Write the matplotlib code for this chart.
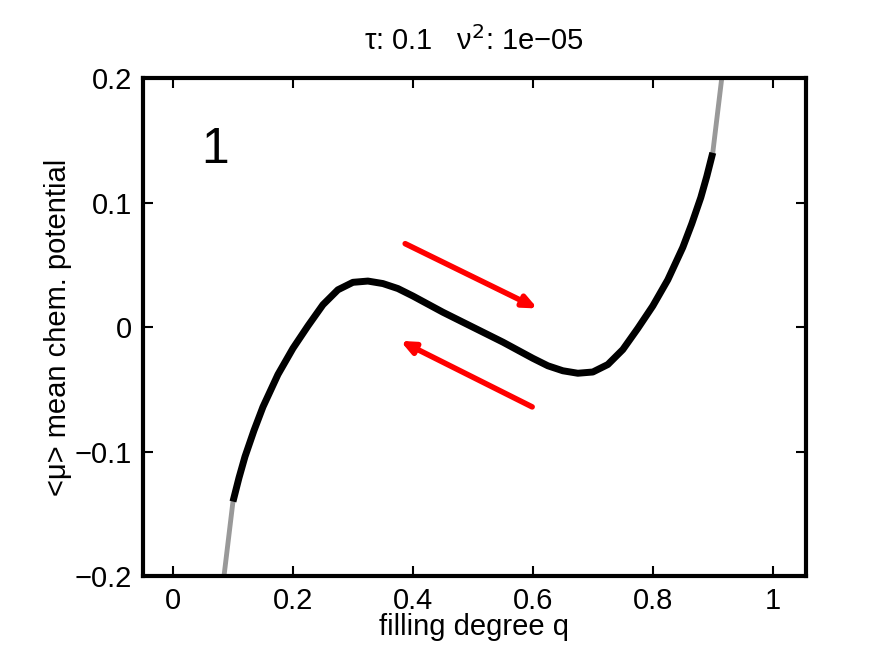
import matplotlib
matplotlib.use("Agg")
import matplotlib.pyplot as plt

q_black = [0.1, 0.11, 0.12, 0.135, 0.15, 0.175, 0.2, 0.225, 0.25, 0.275, 0.3, 0.325, 0.35, 0.375, 0.4, 0.45, 0.5,
           0.55, 0.6, 0.625, 0.65, 0.675, 0.7, 0.725, 0.75, 0.775, 0.8, 0.825, 0.85, 0.865, 0.88, 0.89, 0.9]
mu_black = [-0.14, -0.121, -0.104, -0.083, -0.064, -0.038, -0.017, 0.001, 0.018, 0.030, 0.036, 0.037, 0.035, 0.031, 0.025, 0.012, 0.0,
            -0.012, -0.025, -0.031, -0.035, -0.037, -0.036, -0.030, -0.018, -0.001, 0.017, 0.038, 0.064, 0.083, 0.104, 0.121, 0.14]
q_grey_lo = [0.085, 0.1]
mu_grey_lo = [-0.2, -0.14]
q_grey_hi = [0.9, 0.915]
mu_grey_hi = [0.14, 0.2]
xticks = [0, 0.2, 0.4, 0.6, 0.8, 1]
xticklabels = ["0", "0.2", "0.4", "0.6", "0.8", "1"]
yticks = [-0.2, -0.1, 0, 0.1, 0.2]
yticklabels = ["\u22120.2", "\u22120.1", "0", "0.1", "0.2"]

plt.rcParams["font.family"] = "Liberation Sans"
fig = plt.figure(figsize=(8.72, 6.67), dpi=100)
ax = fig.add_axes([0.164, 0.136, 0.76, 0.747])
ax.plot(q_grey_lo, mu_grey_lo, color="#999999", lw=3.5)
ax.plot(q_grey_hi, mu_grey_hi, color="#999999", lw=3.5)
ax.plot(q_black, mu_black, color="black", lw=5, solid_capstyle="butt", solid_joinstyle="round")
ax.annotate("", xy=(0.612, 0.014), xytext=(0.383, 0.068),
            arrowprops=dict(arrowstyle="-|>,head_length=0.8,head_width=0.35", color="red", lw=4))
ax.annotate("", xy=(0.375, -0.010), xytext=(0.603, -0.065),
            arrowprops=dict(arrowstyle="-|>,head_length=0.8,head_width=0.35", color="red", lw=4))
ax.text(0.07, 0.142, "1", fontsize=36, ha="center", va="center")
ax.set_xlim(-0.05, 1.055)
ax.set_ylim(-0.2, 0.2)
ax.set_xticks(xticks)
ax.set_xticklabels(xticklabels)
ax.set_yticks(yticks)
ax.set_yticklabels(yticklabels)
ax.tick_params(direction="in", length=7, width=1.5, labelsize=21, top=True, right=True, pad=8)
for s in ax.spines.values():
    s.set_linewidth(3)
ax.set_xlabel("filling degree q", fontsize=21, labelpad=-2)
ax.set_ylabel("<\u03bc> mean chem. potential", fontsize=21, labelpad=2)
ax.set_title("\u03c4: 0.1   \u03bd$^2$: 1e\u221205", fontsize=21, pad=20)
fig.savefig("out.png", dpi=100)
